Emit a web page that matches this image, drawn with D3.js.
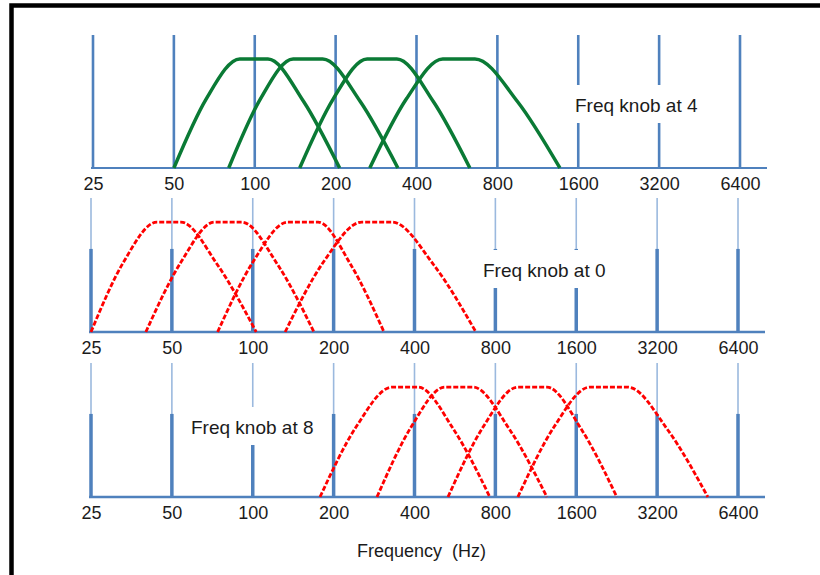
<!DOCTYPE html>
<html>
<head>
<meta charset="utf-8">
<script src="https://cdn.jsdelivr.net/npm/d3@7"></script>
<style>
    body { margin: 0; background: #fff; }
    text { font-family: "Liberation Sans", Arial, sans-serif; fill: #1b1b1b; }
</style>
</head>
<body>
<div id="chart"></div>
<script>
    // 频率刻度 (Hz)
    const freqTicks = [25, 50, 100, 200, 400, 800, 1600, 3200, 6400];

    // each curve: start, mid rise, peak start, peak end, mid fall, end (Hz)
    const knob4Curves = [
        [50, 66, 88, 112, 152, 207],
        [80, 105, 139, 179, 247, 341],
        [147, 196, 262, 338, 462, 632],
        [268, 367, 501, 660, 950, 1367]
    ];
    const knob0Curves = [
        [25, 33, 44, 54, 74, 103],
        [40, 54, 72, 91, 124, 169],
        [74, 100, 135, 175, 232, 308],
        [132, 183, 255, 330, 472, 677]
    ];
    const knob8Curves = [
        [178, 242, 330, 412, 561, 763],
        [290, 388, 519, 660, 906, 1244],
        [533, 719, 970, 1244, 1678, 2266],
        [970, 1320, 1798, 2490, 3507, 4943]
    ];
    // relative level at those six points
    const curveLevels = [0, 0.52, 0.82, 0.82, 0.5, 0];
    const knobLabels = ['Freq knob at 4', 'Freq knob at 0', 'Freq knob at 8'];
    const axisTitle = 'Frequency  (Hz)';

    const width = 820;
    const height = 575;
    const blue = '#4f81bd';
    const lightBlue = '#9bb9de';

    const panels = [
        { curves: knob4Curves, label: knobLabels[0], top: 35, base: 168, x0: 93, color: '#0a7a35', dash: null, lw: 3.5, split: false, lx: 575, ly: 112 },
        { curves: knob0Curves, label: knobLabels[1], top: 198, base: 332, x0: 91, color: '#ff0000', dash: '5,2', lw: 2.8, split: true, lx: 483, ly: 277 },
        { curves: knob8Curves, label: knobLabels[2], top: 363, base: 497, x0: 91, color: '#ff0000', dash: '5,2', lw: 2.8, split: true, lx: 191, ly: 434 }
    ];

    const svg = d3.select('#chart').append('svg')
        .attr('width', width)
        .attr('height', height);

    panels.forEach(p => {
        const x = d3.scaleLog().base(2).domain([25, 6400]).range([p.x0, p.x0 + 647]);
        const y = d3.scaleLinear().domain([0, 1]).range([p.base, p.top]);
        const g = svg.append('g').attr('class', 'panel');

        // 竖线
        const grid = g.append('g').selectAll('g').data(freqTicks).enter().append('g');
        if (p.split) {
            grid.append('line')
                .attr('x1', d => x(d)).attr('x2', d => x(d))
                .attr('y1', y(1)).attr('y2', y(0.62))
                .attr('stroke', lightBlue).attr('stroke-width', 1.6);
            grid.append('line')
                .attr('x1', d => x(d)).attr('x2', d => x(d))
                .attr('y1', y(0.62)).attr('y2', y(0))
                .attr('stroke', blue).attr('stroke-width', 3.5);
        } else {
            grid.append('line')
                .attr('x1', d => x(d)).attr('x2', d => x(d))
                .attr('y1', y(1)).attr('y2', y(0))
                .attr('stroke', blue).attr('stroke-width', 2.6);
        }

        // baseline
        g.append('line')
            .attr('x1', x(25) - 2).attr('x2', x(6400) + 27)
            .attr('y1', y(0)).attr('y2', y(0))
            .attr('stroke', blue).attr('stroke-width', p.split ? 2.6 : 2);

        // label box covers the lines behind it
        g.append('rect')
            .attr('x', p.lx - 8).attr('y', p.ly - 27)
            .attr('width', 142).attr('height', 38)
            .attr('fill', '#fff');
        g.append('text')
            .attr('x', p.lx).attr('y', p.ly)
            .style('font-size', '19px')
            .text(p.label);

        const line = d3.line()
            .x(d => x(d[0]))
            .y(d => y(d[1]))
            .curve(d3.curveMonotoneX);

        g.append('g').selectAll('path')
            .data(p.curves)
            .enter().append('path')
            .attr('d', c => line(c.map((f, i) => [f, curveLevels[i]])))
            .attr('fill', 'none')
            .attr('stroke', p.color)
            .attr('stroke-width', p.lw)
            .attr('stroke-dasharray', p.dash);

        const axis = g.append('g')
            .attr('transform', 'translate(0,' + y(0) + ')')
            .call(d3.axisBottom(x).tickValues(freqTicks).tickFormat(d3.format('d')).tickSize(0).tickPadding(9));
        axis.select('.domain').remove();
        axis.selectAll('text')
            .attr('font-family', null)
            .style('font-size', '18px')
            .style('fill', '#1b1b1b');
    });

    svg.append('text')
        .attr('x', 357).attr('y', 557)
        .style('font-size', '18px')
        .style('white-space', 'pre')
        .text(axisTitle);

    // 边框
    svg.append('path')
        .attr('d', 'M11.5,' + height + 'V5.5H' + width)
        .attr('fill', 'none')
        .attr('stroke', '#000')
        .attr('stroke-width', 4.5);
</script>
</body>
</html>
